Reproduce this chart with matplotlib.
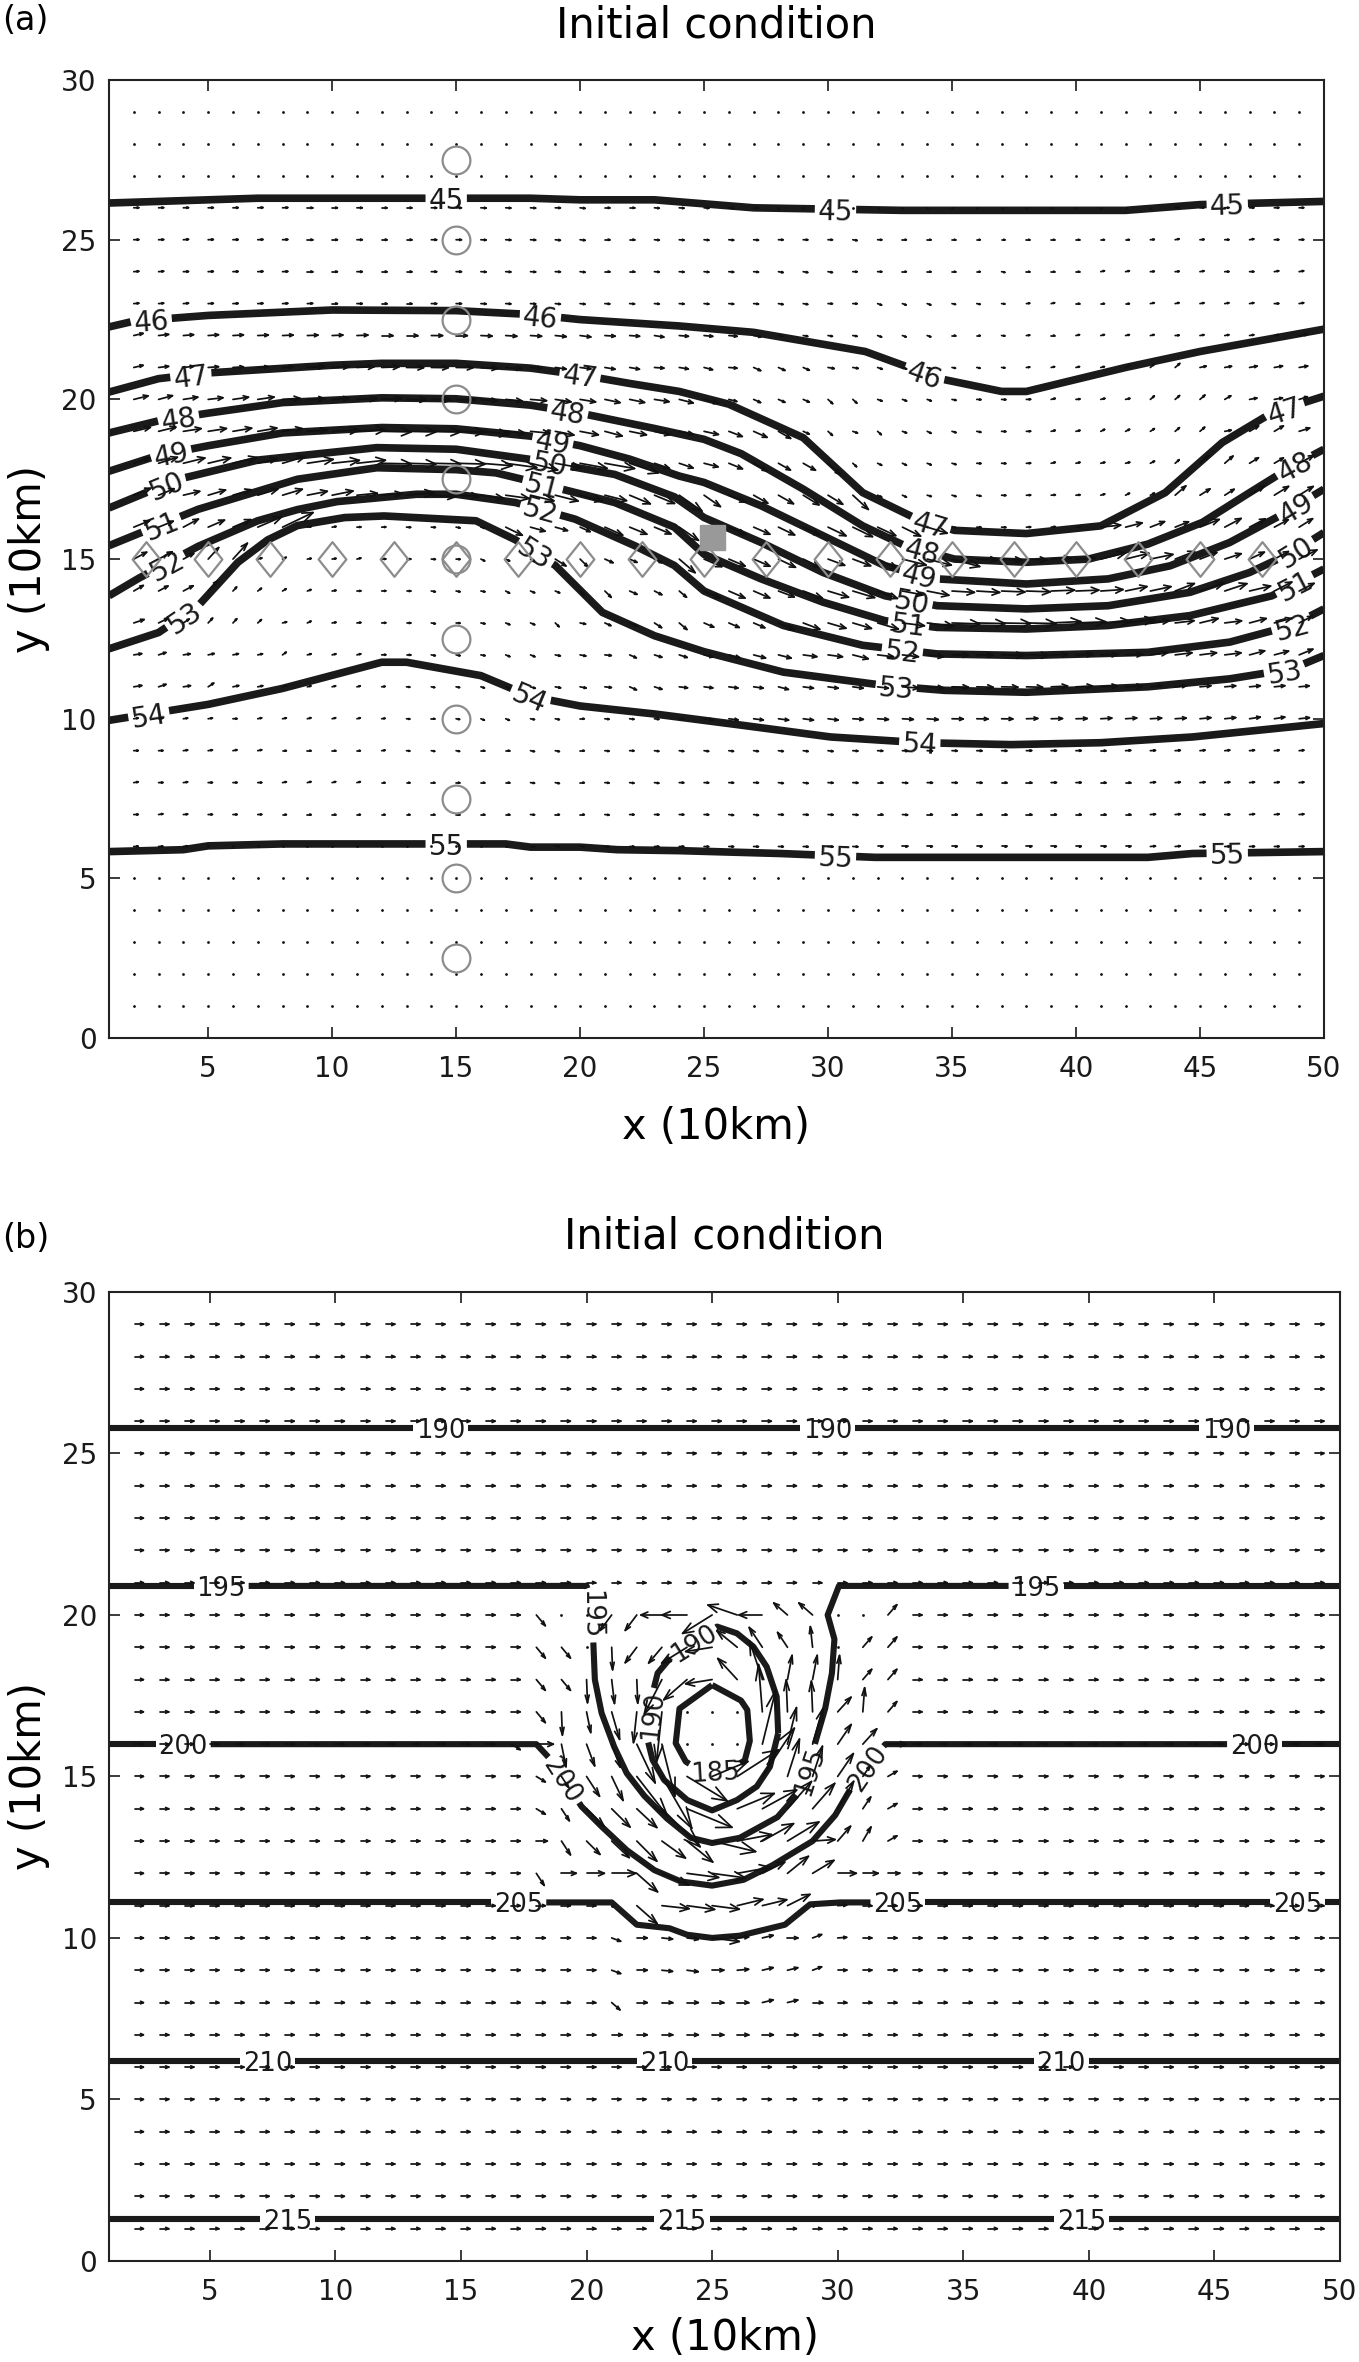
import numpy as np
import matplotlib
matplotlib.use('Agg')
import matplotlib.pyplot as plt
import matplotlib.tri as mtri
from matplotlib.collections import LineCollection
from matplotlib.path import Path

plt.rcParams['font.family'] = ['DejaVu Sans']

# ---------------- panel (a): contour lines ----------------
a45_x = [1, 3, 7, 12, 18, 20, 23, 27, 33, 42, 45, 50]
a45_y = [26.15, 26.2, 26.3, 26.3, 26.3, 26.25, 26.25, 26.0, 25.92, 25.92, 26.1, 26.2]
a46_x = [1, 2, 5, 10, 15, 18, 20, 24, 27, 31.5, 34.5, 37, 38, 42, 45, 50]
a46_y = [22.27, 22.45, 22.63, 22.8, 22.78, 22.66, 22.5, 22.3, 22.1, 21.5, 20.65, 20.25, 20.25, 21.0, 21.5, 22.2]
a47_x = [1, 3, 5, 10, 12, 15, 18, 20, 22, 24, 26, 29, 31.4, 33.6, 35.1, 38, 41, 43.6, 45.9, 47.9, 50]
a47_y = [20.23, 20.65, 20.83, 21.07, 21.13, 21.13, 20.98, 20.77, 20.5, 20.25, 19.85, 18.8, 17.08, 16.25, 15.9, 15.8, 16.04, 17.08, 18.65, 19.58, 20.1]
a48_x = [1, 3, 5, 8, 12, 15, 18, 20, 22, 23, 25, 26.5, 29, 31.4, 33.1, 35.1, 38, 40.5, 42.9, 45.1, 47, 48.7, 50]
a48_y = [18.95, 19.33, 19.57, 19.9, 20.05, 20.02, 19.82, 19.57, 19.25, 19.09, 18.75, 18.3, 17.19, 16.04, 15.42, 15.0, 14.9, 15.0, 15.47, 16.15, 17.08, 17.9, 18.44]
a49_x = [1, 3, 5, 8, 12, 15, 18, 20, 22, 24, 25, 27.3, 29.8, 32.3, 34.4, 38, 41.3, 43.8, 46.2, 48.2, 50]
a49_y = [17.75, 18.25, 18.55, 18.95, 19.12, 19.08, 18.85, 18.55, 18.13, 17.6, 17.4, 16.67, 15.73, 14.79, 14.38, 14.22, 14.38, 14.79, 15.52, 16.35, 17.19]
a50_x = [1, 3.8, 7, 11.8, 15, 18.2, 21.4, 23.8, 25, 27.3, 29.8, 32.3, 34.4, 38, 41.3, 44.6, 47, 48.7, 50]
a50_y = [16.6, 17.5, 18.1, 18.49, 18.44, 18.1, 17.65, 16.95, 16.3, 15.52, 14.58, 13.85, 13.54, 13.44, 13.54, 13.96, 14.58, 15.2, 15.83]
a51_x = [1, 4.6, 8.6, 11.8, 15, 16.6, 18.2, 21.4, 23.8, 25, 27.3, 29.8, 32.3, 34.4, 38, 41.3, 44.6, 47.9, 50]
a51_y = [15.42, 16.56, 17.5, 17.86, 17.8, 17.7, 17.4, 16.77, 16.0, 15.15, 14.38, 13.65, 13.07, 12.86, 12.81, 12.92, 13.23, 13.85, 14.69]
a52_x = [1, 2.2, 4.6, 7, 8.6, 10.2, 13.4, 15, 17.4, 19.8, 22.2, 23.8, 25, 28.2, 31.4, 34.4, 38, 42.9, 46.2, 48.7, 50]
a52_y = [13.85, 14.4, 15.4, 16.2, 16.55, 16.8, 17.03, 17.03, 16.77, 16.25, 15.42, 14.8, 14.0, 12.92, 12.3, 12.03, 11.98, 12.08, 12.4, 12.92, 13.44]
a53_x = [1, 3, 4.6, 6.2, 7.4, 8.6, 10.5, 12.1, 15.8, 17.4, 19, 20.9, 23, 25, 28.2, 32.3, 34.7, 38, 42.9, 46.2, 48.7, 50]
a53_y = [12.19, 12.7, 13.54, 14.9, 15.6, 16.05, 16.3, 16.35, 16.2, 15.6, 14.8, 13.33, 12.6, 12.1, 11.46, 11.04, 10.89, 10.83, 11.0, 11.25, 11.56, 11.98]
a54_x = [1, 5, 8, 12, 13, 16, 18, 20, 23, 26.5, 30.1, 33.75, 37.4, 41, 44.7, 50]
a54_y = [9.95, 10.45, 10.95, 11.77, 11.77, 11.35, 10.7, 10.4, 10.15, 9.8, 9.43, 9.25, 9.19, 9.25, 9.43, 9.85]
a55_x = [1, 4, 5, 8, 15, 17, 18, 20, 21.5, 24, 28.1, 31.9, 42.9, 44.7, 50]
a55_y = [5.84, 5.9, 6.02, 6.08, 6.08, 6.08, 5.98, 5.98, 5.9, 5.87, 5.78, 5.66, 5.66, 5.78, 5.84]

# contour label positions (level, x) in panel (a)
lab_a_lev = [45, 45, 45, 46, 46, 46, 47, 47, 47, 47, 48, 48, 48, 48, 49, 49, 49, 49,
             50, 50, 50, 50, 51, 51, 51, 51, 52, 52, 52, 52, 53, 53, 53, 53, 54, 54, 54, 55, 55, 55]
lab_a_x = [14.6, 30.3, 46.1, 2.7, 18.4, 33.9, 4.3, 20.0, 34.15, 48.4, 3.8, 19.5, 33.8, 48.8,
           3.5, 18.9, 33.7, 48.85, 3.3, 18.8, 33.4, 48.85, 3.1, 18.5, 33.25, 48.8,
           3.3, 18.4, 33.0, 48.7, 4.0, 18.2, 32.75, 48.4, 2.6, 18.0, 33.7, 14.6, 30.3, 46.1]

# grey observation markers in panel (a)
circ_x = [15] * 11
circ_y = [2.5, 5, 7.5, 10, 12.5, 15, 17.5, 20, 22.5, 25, 27.5]
diam_x = [2.5, 5, 7.5, 10, 12.5, 15, 17.5, 20, 22.5, 25, 27.5, 30, 32.5, 35, 37.5, 40, 42.5, 45, 47.5]
diam_y = [15] * 19
sq_x, sq_y = [25.3], [15.7]

# ---------------- panel (b): contour lines ----------------
b190_x = [1, 50]
b190_y = [25.8, 25.8]
b195_x = [1, 20.0, 20.25, 20.26, 20.33, 20.6, 21.1, 21.6, 22.3, 23.2, 24.15, 25, 26.1, 27.6, 28.5,
          28.9, 29.2, 29.5, 29.77, 29.87, 29.6, 30.05, 50]
b195_y = [20.9, 20.9, 20.3, 19.33, 18.0, 16.96, 15.92, 15.1, 14.4, 13.7, 13.1, 12.94, 13.1, 13.74, 14.54,
          15.5, 16.3, 17.1, 18.2, 19.25, 20.0, 20.9, 20.9]
b200_x = [1, 18.0, 18.6, 19.8, 20.6, 21.6, 22.7, 23.75, 25, 26.25, 27.4, 29.0, 29.9, 30.5, 31.2, 31.9, 50]
b200_y = [16.0, 16.0, 15.5, 14.07, 13.45, 12.72, 12.1, 11.75, 11.62, 11.8, 12.25, 13.0, 13.8, 14.6, 15.4, 16.0, 16.0]
b205_x = [1, 21, 22, 23.3, 24, 25, 26.1, 27.9, 28.9, 30.1, 50]
b205_y = [11.1, 11.1, 10.41, 10.3, 10.1, 10.0, 10.07, 10.41, 11.04, 11.1, 11.1]
b210_x = [1, 50]
b210_y = [6.2, 6.2]
b215_x = [1, 50]
b215_y = [1.3, 1.3]
b190v_x = [27.63, 27.3, 26.78, 25.99, 25.0, 24.01, 23.09, 22.63, 22.43, 22.63, 22.83, 23.49, 25.2,
           25.99, 26.64, 27.17, 27.57, 27.63]
b190v_y = [16.34, 15.3, 14.69, 14.27, 13.95, 14.27, 14.89, 15.51, 16.13, 17.58, 18.2, 18.81, 19.64,
           19.43, 19.02, 18.4, 17.47, 16.34]
b185_x = [25.0, 26.15, 26.4, 26.5, 26.3, 25.7, 24.6, 23.95, 23.55, 23.7, 25.0]
b185_y = [17.83, 17.35, 17.06, 16.1, 15.5, 15.2, 15.15, 15.46, 16.03, 17.1, 17.83]
# helper for the wind field only (not drawn): the ~195 level closing the gap above the low
b195_gap_x = [20.0, 30.05]
b195_gap_y = [20.9, 20.9]

lab_b_lev = [190, 190, 190, 195, 195, 195, 195, 200, 200, 200, 200, 205, 205, 205,
             210, 210, 210, 215, 215, 215, 190, 190, 185]
lab_b_x = [14.2, 29.6, 45.5, 5.45, 37.9, 20.28, 28.75, 3.94, 46.6, 19.1, 31.1, 17.3, 32.4, 48.3,
           7.3, 23.1, 38.9, 8.1, 23.8, 39.7, 24.2, 22.5, 25.1]
lab_b_y = [25.8, 25.8, 25.8, 20.9, 20.9, 20.0, 15.2, 16.0, 16.0, 14.9, 15.3, 11.1, 11.1, 11.1,
           6.2, 6.2, 6.2, 1.3, 1.3, 1.3, 19.2, 16.9, 15.2]

# wind vectors sit on this grid
grid_x = np.arange(2, 50)
grid_y = np.arange(1, 30)

lines_a = [(45, a45_x, a45_y), (46, a46_x, a46_y), (47, a47_x, a47_y), (48, a48_x, a48_y),
           (49, a49_x, a49_y), (50, a50_x, a50_y), (51, a51_x, a51_y), (52, a52_x, a52_y),
           (53, a53_x, a53_y), (54, a54_x, a54_y), (55, a55_x, a55_y)]
lines_b = [(190, b190_x, b190_y), (195, b195_x, b195_y), (200, b200_x, b200_y),
           (205, b205_x, b205_y), (210, b210_x, b210_y), (215, b215_x, b215_y),
           (190, b190v_x, b190v_y), (185, b185_x, b185_y)]

LINE_COL = '#1a1a1a'
ARROW_COL = '#111111'
GREY = '#8c8c8c'

fig = plt.figure(figsize=(13.59, 23.62), dpi=100)
ax_a = fig.add_axes([0.0802, 0.5605, 0.8940, 0.4056])
ax_b = fig.add_axes([0.0805, 0.0428, 0.9055, 0.4102])


def style_axes(ax, xpad):
    ax.set_xlim(1, 50)
    ax.set_ylim(0, 30)
    ax.set_xticks(range(5, 51, 5))
    ax.set_yticks(range(0, 31, 5))
    ax.tick_params(direction='in', length=8, width=1.2, top=True, right=True,
                   labelsize=20, colors='#1a1a1a')
    ax.tick_params(axis='x', pad=12)
    ax.tick_params(axis='y', pad=9)
    for s in ax.spines.values():
        s.set_linewidth(1.5)
        s.set_color('#222222')
    ax.set_xlabel('x (10km)', fontsize=30, labelpad=xpad)
    ax.set_ylabel('y (10km)', fontsize=30, labelpad=8)
    ax.set_title('Initial condition', fontsize=30, pad=31)


def geo_wind(lines, k, fill_edge):
    # gradient of the height field spanned by the contour lines -> geostrophic wind
    px, py, pz = [], [], []
    for lev, xs, ys in lines:
        for i in range(len(xs) - 1):
            n = int(np.ceil(np.hypot(xs[i + 1] - xs[i], ys[i + 1] - ys[i]) / 0.2)) + 1
            px += list(np.linspace(xs[i], xs[i + 1], n))
            py += list(np.linspace(ys[i], ys[i + 1], n))
            pz += [lev] * n
    pts = np.round(np.column_stack([px, py]), 3)
    pts, keep = np.unique(pts, axis=0, return_index=True)
    z = np.asarray(pz, float)[keep]
    tri = mtri.Triangulation(pts[:, 0], pts[:, 1])
    f = mtri.LinearTriInterpolator(tri, z)
    X, Y = np.meshgrid(grid_x, grid_y)
    Ye = np.clip(Y, pts[:, 1].min() + 0.05, pts[:, 1].max() - 0.05) if fill_edge else Y
    dzdx, dzdy = f.gradient(X.astype(float), Ye.astype(float))
    U = np.nan_to_num(np.ma.filled(-k * dzdy, 0.0))
    V = np.nan_to_num(np.ma.filled(k * dzdx, 0.0))
    return X, Y, U, V


def draw_arrows(ax, X, Y, U, V):
    # MATLAB-like quiver: shaft plus two head strokes, heads scale with length
    a, b = 0.33, 0.33
    x, y, u, v = X.ravel(), Y.ravel(), U.ravel(), V.ravel()
    small = np.hypot(u, v) < 0.06
    ax.plot(x[small], y[small], ls='none', marker='o', ms=2.0, mew=0, color=ARROW_COL, zorder=4)
    x, y, u, v = x[~small], y[~small], u[~small], v[~small]
    tx, ty = x + u, y + v
    shafts = np.stack([np.column_stack([x, y]), np.column_stack([tx, ty])], axis=1)
    heads = np.stack([np.column_stack([tx - a * (u + b * v), ty - a * (v - b * u)]),
                      np.column_stack([tx, ty]),
                      np.column_stack([tx - a * (u - b * v), ty - a * (v + b * u)])], axis=1)
    ax.add_collection(LineCollection(list(shafts) + list(heads), colors=ARROW_COL,
                                     linewidths=1.25, capstyle='round', joinstyle='round',
                                     zorder=4))


def draw_contours(ax, lines, lab_lev, lab_x, lab_y, fs, lw):
    T = ax.transData
    Ti = T.inverted()
    polys = []
    for lev, xs, ys in lines:
        d = T.transform(np.column_stack([xs, ys]))
        s = np.concatenate([[0.0], np.cumsum(np.hypot(*np.diff(d, axis=0).T))])
        polys.append([lev, d, [], s])
    fs_px = fs * fig.dpi / 72.0
    for j, lev in enumerate(lab_lev):
        lx = lab_x[j]
        if lab_y is None:
            xs, ys = next((xs, ys) for l, xs, ys in lines if l == lev)
            ly = np.interp(lx, xs, ys)
        else:
            ly = lab_y[j]
        q = T.transform((lx, ly))
        best = None
        for p in polys:
            if p[0] != lev:
                continue
            d = p[1]
            for i in range(len(d) - 1):
                seg = d[i + 1] - d[i]
                L2 = seg @ seg
                if L2 == 0:
                    continue
                t = np.clip((q - d[i]) @ seg / L2, 0, 1)
                foot = d[i] + t * seg
                dist = np.hypot(*(q - foot))
                if best is None or dist < best[0]:
                    best = (dist, p, i, t, foot, seg)
        _, p, i, t, foot, seg = best
        s0 = p[3][i] + t * np.sqrt(seg @ seg)
        half = 0.5 * len(str(lev)) * 0.636 * fs_px + 3
        p[2].append((s0 - half, s0 + half))
        ang = np.degrees(np.arctan2(seg[1], seg[0]))
        if ang > 90:
            ang -= 180
        elif ang <= -90:
            ang += 180
        fx, fy = Ti.transform(foot)
        ax.text(fx, fy, str(lev), rotation=ang, rotation_mode='anchor', ha='center',
                va='center_baseline', fontsize=fs, color='#1a1a1a', zorder=3)
    for lev, d, cuts, s in polys:
        keep, start = [], 0.0
        for c0, c1 in sorted(cuts):
            if c0 > start:
                keep.append((start, c0))
            start = max(start, c1)
        if start < s[-1]:
            keep.append((start, s[-1]))
        for k0, k1 in keep:
            inside = (s > k0) & (s < k1)
            ss = np.concatenate([[k0], s[inside], [k1]])
            dd = np.column_stack([np.interp(ss, s, d[:, 0]), np.interp(ss, s, d[:, 1])])
            xy = Ti.transform(dd)
            ax.plot(xy[:, 0], xy[:, 1], color=LINE_COL, lw=lw, solid_capstyle='butt',
                    solid_joinstyle='round', zorder=2)


# ---------------- panel (a) ----------------
style_axes(ax_a, 17)
Xa, Ya, Ua, Va = geo_wind(lines_a, 0.75, fill_edge=False)
draw_arrows(ax_a, Xa, Ya, Ua, Va)
draw_contours(ax_a, lines_a, lab_a_lev, lab_a_x, None, 20, 5.5)
diamond = Path([(0, 1), (0.8, 0), (0, -1), (-0.8, 0), (0, 1)],
               [Path.MOVETO, Path.LINETO, Path.LINETO, Path.LINETO, Path.CLOSEPOLY])
ax_a.plot(circ_x, circ_y, ls='none', marker='o', ms=20, mfc='none', mec=GREY, mew=1.6, zorder=5)
ax_a.plot(diam_x, diam_y, ls='none', marker=diamond, ms=25, mfc='none', mec=GREY, mew=1.6, zorder=5)
ax_a.plot(sq_x, sq_y, ls='none', marker='s', ms=18, color='#999999', zorder=5)

# ---------------- panel (b) ----------------
style_axes(ax_b, 8)
Xb, Yb, Ub, Vb = geo_wind(lines_b + [(195, b195_gap_x, b195_gap_y)], 0.35, fill_edge=True)
draw_arrows(ax_b, Xb, Yb, Ub, Vb)
draw_contours(ax_b, lines_b, lab_b_lev, lab_b_x, lab_b_y, 18.5, 4.4)

fig.text(0.0015, 0.9983, '(a)', ha='left', va='top', fontsize=24)
fig.text(0.0015, 0.4826, '(b)', ha='left', va='top', fontsize=24)

fig.savefig('out.png', dpi=100)
